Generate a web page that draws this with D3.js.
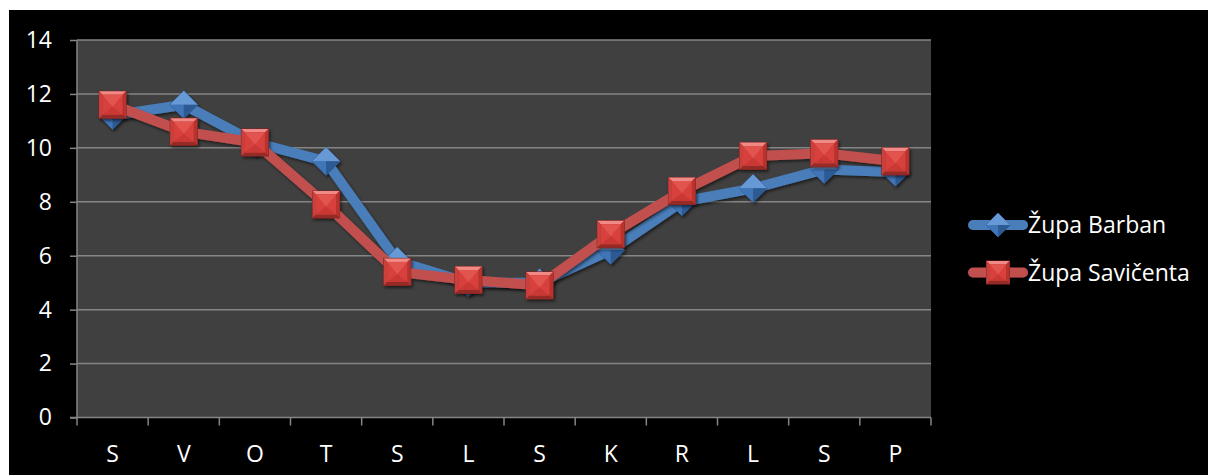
<!DOCTYPE html>
<html>
<head>
<meta charset="utf-8">
<script src="https://cdn.jsdelivr.net/npm/d3@7"></script>
<style>
  body { margin: 0; background: #fff; }
  svg { display: block; }
  text { font-family: "Open Sans", "Noto Sans", sans-serif; fill: #fff; }
</style>
</head>
<body>
<script>
const categories = ['S', 'V', 'O', 'T', 'S', 'L', 'S', 'K', 'R', 'L', 'S', 'P'];
const barban = [11.2, 11.6, 10.2, 9.5, 5.8, 5.0, 5.0, 6.2, 8.0, 8.5, 9.2, 9.1];
const savicenta = [11.6, 10.6, 10.2, 7.9, 5.4, 5.1, 4.9, 6.8, 8.4, 9.7, 9.8, 9.5];
const yTicks = [0, 2, 4, 6, 8, 10, 12, 14];
const seriesNames = ['Župa Barban', 'Župa Savičenta'];

const width = 1208, height = 475;
const margin = {top: 40, left: 77, right: 277, bottom: 57};
const fontSize = 23;

const svg = d3.select('body').append('svg')
  .attr('width', width)
  .attr('height', height);

const defs = svg.append('defs');
const shadow = defs.append('filter').attr('id', 'shadow')
  .attr('x', '-30%').attr('y', '-30%').attr('width', '160%').attr('height', '160%');
shadow.append('feDropShadow')
  .attr('dx', 1.5).attr('dy', 2).attr('stdDeviation', 1.5)
  .attr('flood-color', '#000').attr('flood-opacity', 0.55);

// chart background
svg.append('rect')
  .attr('x', 9).attr('y', 10)
  .attr('width', width - 9).attr('height', height - 10)
  .attr('fill', '#000');

const x = d3.scaleBand()
  .domain(d3.range(categories.length))
  .range([margin.left, width - margin.right]);

const y = d3.scaleLinear()
  .domain([0, 14])
  .range([height - margin.bottom - 0.5, margin.top]);

// plot area
svg.append('rect')
  .attr('x', x.range()[0]).attr('y', y(14))
  .attr('width', x.range()[1] - x.range()[0])
  .attr('height', y(0) - y(14))
  .attr('fill', '#404040');

// gridlines
svg.append('g')
  .selectAll('line')
  .data(yTicks.filter(d => d > 0))
  .join('line')
  .attr('x1', x.range()[0]).attr('x2', x.range()[1])
  .attr('y1', d => y(d)).attr('y2', d => y(d))
  .attr('stroke', '#858585')
  .attr('stroke-width', 1.5);

// y axis
const yAxis = svg.append('g')
  .attr('transform', `translate(${x.range()[0]},0)`)
  .call(d3.axisLeft(y).tickValues(yTicks).tickSize(7).tickPadding(18));
yAxis.attr('font-size', fontSize).attr('font-family', null);
yAxis.select('.domain').attr('stroke', '#858585').attr('stroke-width', 1.5)
  .attr('d', `M-7,${y(0)}H0V${y(14)}`);
yAxis.selectAll('.tick line').attr('stroke', '#858585').attr('stroke-width', 1.5);
yAxis.selectAll('.tick text').attr('fill', '#fff');

// x axis
const xAxis = svg.append('g')
  .attr('transform', `translate(0,${y(0)})`);
xAxis.append('line')
  .attr('x1', x.range()[0]).attr('x2', x.range()[1])
  .attr('stroke', '#858585').attr('stroke-width', 1.5);
xAxis.selectAll('.tk')
  .data(d3.range(categories.length + 1))
  .join('line')
  .attr('class', 'tk')
  .attr('x1', i => x.range()[0] + i * x.step())
  .attr('x2', i => x.range()[0] + i * x.step())
  .attr('y1', 0).attr('y2', 8)
  .attr('stroke', '#858585').attr('stroke-width', 1.5);
xAxis.selectAll('text')
  .data(categories)
  .join('text')
  .attr('x', (d, i) => x(i) + x.bandwidth() / 2)
  .attr('y', 44)
  .attr('text-anchor', 'middle')
  .attr('font-size', fontSize)
  .text(d => d);

const line = d3.line()
  .x((d, i) => x(i) + x.bandwidth() / 2)
  .y(d => y(d));

const blue = {line: '#4a7ebb', light: '#6fa0dc', mid: '#3f74b8', dark: '#2d5a94', edge: '#27507f'};
const red = {line: '#c0504d', light: '#e8625e', mid: '#d23f3b', dark: '#a8302d', edge: '#7e2422'};

function diamond(g, cx, cy, r) {
  g.append('path').attr('d', `M${cx},${cy - r}L${cx + r},${cy}L${cx},${cy + r}L${cx - r},${cy}Z`)
    .attr('fill', blue.mid).attr('stroke', blue.edge).attr('stroke-width', 0.8);
  g.append('path').attr('d', `M${cx},${cy - r}L${cx + r},${cy}L${cx - r},${cy}Z`)
    .attr('fill', blue.light).attr('opacity', 0.85);
  g.append('path').attr('d', `M${cx - r},${cy}L${cx},${cy}L${cx},${cy + r}Z`)
    .attr('fill', blue.mid);
  g.append('path').attr('d', `M${cx + r},${cy}L${cx},${cy}L${cx},${cy + r}Z`)
    .attr('fill', blue.dark);
}

function square(g, cx, cy, r) {
  const b = 3.5;
  g.append('rect').attr('x', cx - r).attr('y', cy - r)
    .attr('width', 2 * r).attr('height', 2 * r)
    .attr('fill', red.dark).attr('stroke', red.edge).attr('stroke-width', 1);
  // bevel facets
  g.append('path').attr('d', `M${cx - r},${cy - r}L${cx + r},${cy - r}L${cx + r - b},${cy - r + b}L${cx - r + b},${cy - r + b}Z`)
    .attr('fill', '#f08a86');
  g.append('path').attr('d', `M${cx - r},${cy - r}L${cx - r + b},${cy - r + b}L${cx - r + b},${cy + r - b}L${cx - r},${cy + r}Z`)
    .attr('fill', '#c9413d');
  g.append('path').attr('d', `M${cx + r},${cy - r}L${cx + r},${cy + r}L${cx + r - b},${cy + r - b}L${cx + r - b},${cy - r + b}Z`)
    .attr('fill', '#b8332f');
  g.append('path').attr('d', `M${cx - r},${cy + r}L${cx + r},${cy + r}L${cx + r - b},${cy + r - b}L${cx - r + b},${cy + r - b}Z`)
    .attr('fill', '#962927');
  // inner face with pyramid
  const ir = r - b;
  g.append('rect').attr('x', cx - ir).attr('y', cy - ir)
    .attr('width', 2 * ir).attr('height', 2 * ir).attr('fill', '#d8403c');
  g.append('path').attr('d', `M${cx - ir},${cy - ir}L${cx + ir},${cy - ir}L${cx},${cy + 2}Z`)
    .attr('fill', '#e25450');
  g.append('path').attr('d', `M${cx - ir},${cy + ir}L${cx + ir},${cy + ir}L${cx},${cy + 2}Z`)
    .attr('fill', '#c93834');
}

const series = [
  {values: barban, color: blue, marker: diamond, r: 14},
  {values: savicenta, color: red, marker: square, r: 13.5}
];

series.forEach(s => {
  const g = svg.append('g').attr('filter', 'url(#shadow)');
  g.append('path')
    .datum(s.values)
    .attr('d', line)
    .attr('fill', 'none')
    .attr('stroke', s.color.line)
    .attr('stroke-width', 10)
    .attr('stroke-linejoin', 'round');
  s.values.forEach((v, i) => {
    s.marker(g, x(i) + x.bandwidth() / 2, y(v), s.r);
  });
});

// legend
const legend = svg.append('g');
series.forEach((s, i) => {
  const ly = 225 + i * 47.5;
  const g = legend.append('g').attr('filter', 'url(#shadow)');
  g.append('line')
    .attr('x1', 973).attr('x2', 1023)
    .attr('y1', ly).attr('y2', ly)
    .attr('stroke', s.color.line)
    .attr('stroke-width', 10)
    .attr('stroke-linecap', 'round');
  s.marker(g, 998, ly, i === 0 ? 12 : 11.5);
  legend.append('text')
    .attr('x', 1028).attr('y', ly)
    .attr('dy', '0.35em')
    .attr('font-size', fontSize)
    .text(seriesNames[i]);
});
</script>
</body>
</html>
